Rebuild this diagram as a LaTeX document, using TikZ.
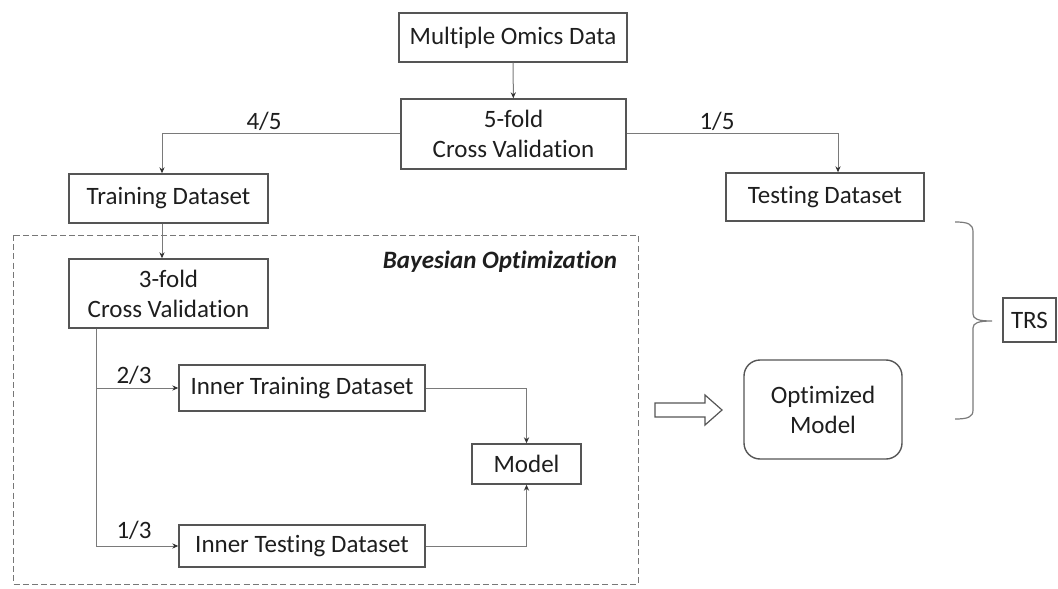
\documentclass[tikz,border=0pt]{standalone}
\usepackage{fontspec}
\setmainfont{Carlito}[Ligatures=NoCommon]
\usetikzlibrary{arrows.meta}

\definecolor{boxline}{HTML}{555555}
\definecolor{wireline}{HTML}{7A7A7A}
\definecolor{txt}{HTML}{1E1E1E}

\begin{document}
\begin{tikzpicture}[x=0.5pt, y=-0.5pt,
    font=\fontsize{12.5}{15}\selectfont, text=txt,
    box/.style={draw=boxline, line width=0.7pt, inner sep=0pt, align=center},
    wire/.style={draw=wireline, line width=0.5pt},
    arr/.style={wire, -{Stealth[length=3pt, width=2.6pt, black!80]}},
    frac/.style={inner sep=1pt}]
    \useasboundingbox (0,0) rectangle (1058,588);

    % outer split
    \node[box, minimum width=114pt, minimum height=24.5pt] (omics) at (513,37.5) {Multiple Omics Data};
    \node[box, minimum width=112.5pt, minimum height=35pt] (cvfive) at (513.5,134) {5-fold\\Cross Validation};
    \node[box, minimum width=99.5pt, minimum height=24.5pt] (train) at (168.5,198.5) {Training Dataset};
    \node[box, minimum width=99pt, minimum height=24pt] (test) at (825,197) {Testing Dataset};

    \draw[arr] (omics) -- (cvfive);
    \draw[arr] (cvfive.west) -| ([xshift=-3.25pt]train.north);
    \draw[arr] (cvfive.east) -| ([xshift=6.5pt]test.north);
    \node[frac] (fourfifth) at (264,121) {4/5};
    \node[frac] (onefifth) at (717,121) {1/5};

    % Bayesian optimization frame
    \draw[draw=boxline!80, line width=0.5pt, dash pattern=on 3pt off 1.6pt] (13,235) rectangle (638,584);
    \node[anchor=east, font=\fontsize{12.5}{15}\selectfont\bfseries\itshape] (bayes) at (624,262) {Bayesian Optimization};

    \node[box, minimum width=99.5pt, minimum height=34.5pt] (cvthree) at (168.5,293.5) {3-fold\\Cross Validation};
    \node[box, minimum width=123pt, minimum height=23pt] (itrain) at (302,388) {Inner Training Dataset};
    \node[box, minimum width=123pt, minimum height=21pt] (itest) at (302,546) {Inner Testing Dataset};
    \node[box, minimum width=54.5pt, minimum height=20pt] (model) at (526.5,464) {Model};

    \draw[arr] ([xshift=-3.25pt]train.south) -- ([xshift=-3.25pt]cvthree.north);
    \draw[arr] ([xshift=14pt]cvthree.south west) |- (itrain.west);
    \draw[arr] ([xshift=14pt]cvthree.south west) |- (itest.west);
    \draw[arr] (itrain.east) -| (model.north);
    \draw[arr] (itest.east) -| (model.south);
    \node[frac] (twothird) at (134,375) {2/3};
    \node[frac] (onethird) at (134,530) {1/3};

    % result
    \draw[draw=boxline, line width=0.6pt] (655,403) -- (705,403) -- (705,395) -- (722,410)
        -- (705,425) -- (705,417) -- (655,417) -- cycle;
    \node[box, rounded corners=8pt, minimum width=79pt, minimum height=49.5pt] (opt) at (823,409.5) {Optimized\\Model};

    % brace to TRS
    \draw[wire, line width=0.6pt] (955,222) .. controls (968,222) and (973,224) .. (973,232)
        -- (973,314) .. controls (973,319) and (978,321) .. (992,321)
        .. controls (978,321) and (973,323) .. (973,328)
        -- (973,410) .. controls (973,417) and (968,419) .. (955,419);
    \node[box, minimum width=26.5pt, minimum height=22pt] (trs) at (1029.5,320) {TRS};
\end{tikzpicture}
\end{document}
